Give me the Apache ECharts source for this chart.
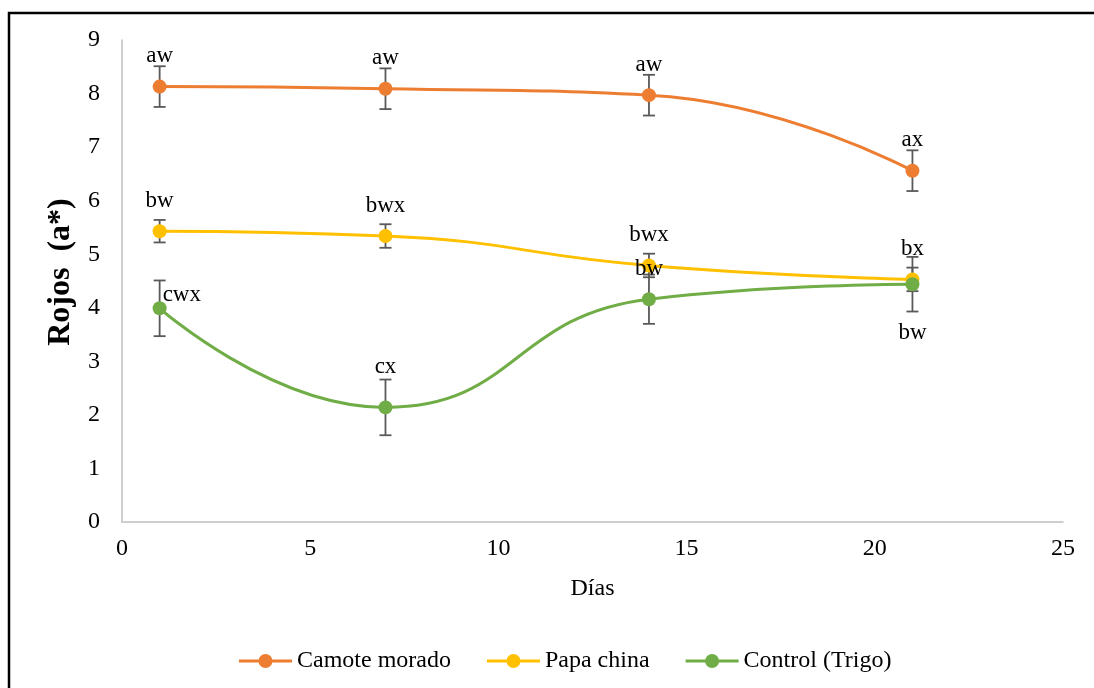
<!DOCTYPE html>
<html>
<head>
<meta charset="utf-8">
<script src="https://cdn.jsdelivr.net/npm/echarts@6/dist/echarts.min.js"></script>
<style>html,body{margin:0;padding:0;background:#fff}#chart{width:1094px;height:688px}</style>
</head>
<body>
<div id="chart"></div>
<script>
// ---- data ----
const days = [1, 7, 14, 21];
const camoteValues = [8.13, 8.09, 7.97, 6.56];
const camoteErrors = [0.38, 0.38, 0.38, 0.38];
const camoteLabels = ['aw', 'aw', 'aw', 'ax'];
const papaValues = [5.43, 5.34, 4.79, 4.53];
const papaErrors = [0.21, 0.22, 0.22, 0.22];
const papaLabels = ['bw', 'bwx', 'bwx', 'bx'];
const controlValues = [3.99, 2.14, 4.16, 4.44];
const controlErrors = [0.52, 0.52, 0.46, 0.51];
const controlLabels = ['cwx', 'cx', 'bw', 'bw'];
const seriesNames = ['Camote morado', 'Papa china', 'Control (Trigo)'];
const xTicks = { min: 0, max: 25, interval: 5 };
const yTicks = { min: 0, max: 9, interval: 1 };

const FONT = '"Liberation Serif", "DejaVu Serif", serif';
const colors = ['#ED7D31', '#FFC000', '#70AD47'];
const LEGEND_ICON = 'path://M0,5.5L20,5.5L20,8.5L0,8.5Z M33,5.5L53,5.5L53,8.5L33,8.5Z M33.5,7A7,7,0,1,1,19.5,7A7,7,0,1,1,33.5,7Z';

// label placement overrides (style only)
const labelStyle = {
  camote: [{}, {}, {}, {}],
  papa: [{}, {}, {}, {}],
  control: [
    { position: [10, -6], align: 'left', verticalAlign: 'middle' },
    { distance: 22 },
    {},
    { position: 'bottom', distance: 30 }
  ]
};

function lineData(vals, labels, styles) {
  return days.map((d, i) => ({
    value: [d, vals[i]],
    label: Object.assign({ show: true, formatter: labels[i] }, styles[i])
  }));
}
function errData(vals, errs) {
  return days.map((d, i) => [d, vals[i], errs[i]]);
}
function errRender(params, api) {
  const x = api.value(0), y = api.value(1), e = api.value(2);
  const top = api.coord([x, y + e]);
  const bot = api.coord([x, y - e]);
  const cw = 6;
  const st = { stroke: '#595959', lineWidth: 1.8 };
  return {
    type: 'group',
    children: [
      { type: 'line', shape: { x1: top[0], y1: top[1], x2: bot[0], y2: bot[1] }, style: st },
      { type: 'line', shape: { x1: top[0] - cw, y1: top[1], x2: top[0] + cw, y2: top[1] }, style: st },
      { type: 'line', shape: { x1: bot[0] - cw, y1: bot[1], x2: bot[0] + cw, y2: bot[1] }, style: st }
    ]
  };
}

function lineSeries(name, color, vals, labels, styles) {
  return {
    name, type: 'line', smooth: 0.5, z: 3,
    data: lineData(vals, labels, styles),
    symbol: 'circle', symbolSize: 14,
    lineStyle: { color, width: 3 },
    itemStyle: { color },
    label: { show: true, position: 'top', distance: 12, color: '#000', fontFamily: FONT, fontSize: 23 }
  };
}
function errSeries(vals, errs) {
  return {
    type: 'custom', z: 2, silent: true,
    renderItem: errRender,
    data: errData(vals, errs),
    encode: { x: 0, y: 1 }
  };
}

const chart = echarts.init(document.getElementById('chart'));
chart.setOption({
  animation: false,
  backgroundColor: '#fff',
  color: colors,
  textStyle: { fontFamily: FONT },
  grid: { left: 122, right: 31, top: 40, bottom: 166 },
  graphic: [{
    type: 'rect', left: 6.5, top: 10.5, z: 100,
    shape: { width: 1100, height: 700 },
    style: { fill: 'none', stroke: '#000', lineWidth: 2.5 }
  }],
  legend: {
    left: 234, top: 644,
    itemWidth: 53, itemHeight: 14, itemGap: 36,
    textStyle: { fontFamily: FONT, fontSize: 24, color: '#000' },
    data: seriesNames.map(n => ({ name: n, icon: LEGEND_ICON, itemStyle: { borderWidth: 0 } }))
  },
  xAxis: {
    type: 'value', min: xTicks.min, max: xTicks.max, interval: xTicks.interval,
    name: 'Días', nameLocation: 'middle', nameGap: 55,
    nameTextStyle: { fontFamily: FONT, fontSize: 24, color: '#000' },
    axisLine: { show: true, lineStyle: { color: '#BFBFBF', width: 1.5 } },
    axisTick: { show: false },
    splitLine: { show: false },
    axisLabel: { fontFamily: FONT, fontSize: 24, color: '#000', margin: 15 }
  },
  yAxis: {
    type: 'value', min: yTicks.min, max: yTicks.max, interval: yTicks.interval,
    name: 'Rojos  (a*)', nameLocation: 'middle', nameGap: 38, nameRotate: 90,
    nameTextStyle: { fontFamily: FONT, fontSize: 32, fontWeight: 'bold', color: '#000', padding: [0, 0, 0, 18] },
    axisLine: { show: true, lineStyle: { color: '#BFBFBF', width: 1.5 } },
    axisTick: { show: false },
    splitLine: { show: false },
    axisLabel: { fontFamily: FONT, fontSize: 24, color: '#000', margin: 22 }
  },
  series: [
    errSeries(camoteValues, camoteErrors),
    errSeries(papaValues, papaErrors),
    errSeries(controlValues, controlErrors),
    lineSeries(seriesNames[0], colors[0], camoteValues, camoteLabels, labelStyle.camote),
    lineSeries(seriesNames[1], colors[1], papaValues, papaLabels, labelStyle.papa),
    lineSeries(seriesNames[2], colors[2], controlValues, controlLabels, labelStyle.control)
  ]
});
</script>
</body>
</html>
